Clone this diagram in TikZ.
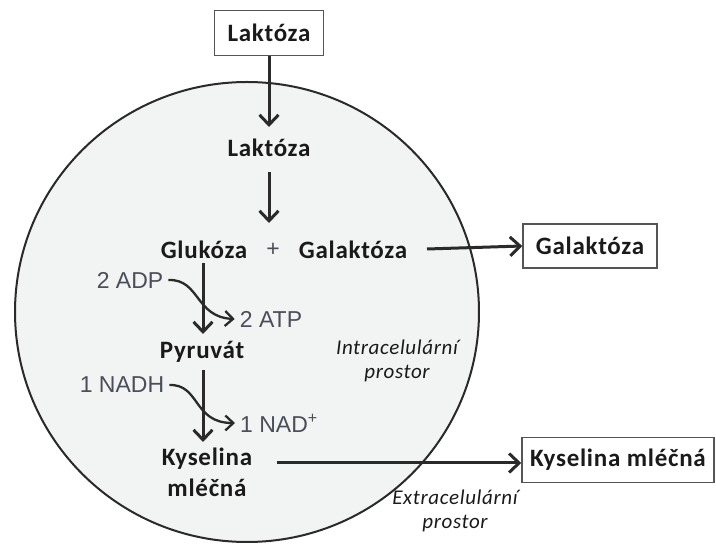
\documentclass[tikz,border=0pt]{standalone}
\usepackage{fontspec}
\setmainfont{Carlito}[LetterSpace=3]
\newfontfamily\arialf{Liberation Sans}
\usetikzlibrary{arrows.meta}
\definecolor{cellfill}{HTML}{F2F3F3}
\definecolor{txtdark}{HTML}{1A1A1A}
\definecolor{arrowc}{HTML}{2A2A2A}
\definecolor{graylab}{HTML}{4A4E5A}
\definecolor{boxc}{HTML}{555555}
\tikzset{
  lbl/.style={font=\fontsize{25}{28}\selectfont\bfseries, text=txtdark, inner sep=0pt},
  boxed/.style={lbl, draw=boxc, line width=1.5pt, fill=white, inner xsep=8pt, inner ysep=8pt},
  small/.style={font=\arialf\fontsize{23}{25}\selectfont, text=graylab, inner xsep=5pt, inner ysep=1pt},
  ital/.style={font=\fontsize{21}{24}\selectfont\itshape, text=txtdark, align=center, inner sep=0pt},
  flow/.style={draw=arrowc, line width=3pt, -{Straight Barb[length=10pt,width=19pt,line width=3pt]}},
  side/.style={draw=arrowc, line width=2.3pt, -{Straight Barb[length=8pt,width=15pt,line width=2.3pt]}},
}
\begin{document}
\begin{tikzpicture}[x=1pt,y=-1pt]
\useasboundingbox (0,0) rectangle (716,545);
\draw[fill=cellfill, draw=arrowc, line width=2pt] (247,312) ellipse [x radius=232, y radius=230];
\node[boxed, minimum width=109pt, minimum height=45pt] (lakout) at (269,33) {Laktóza};
\node[lbl] (lakin) at (269,148) {Laktóza};
\node[lbl] (glu) at (204,250) {Glukóza};
\node[font=\arialf\fontsize{23}{25}\selectfont, text=graylab, inner sep=0pt] (plus) at (273,250) {+};
\node[lbl] (galin) at (353,250) {Galaktóza};
\node[boxed, minimum width=134pt, minimum height=44pt] (galout) at (590,246) {Galaktóza};
\node[small] (adp) at (130,280) {2 ADP};
\node[small] (atp) at (271,319) {2 ATP};
\node[small] (nadh) at (122,385) {1 NADH};
\node[small] (nad) at (279,423) {1 NAD\textsuperscript{+}};
\node[lbl] (pyr) at (202,352) {Pyruvát};
\node[lbl, align=center] (kys) at (207,472) {Kyselina\\[3pt]mléčná};
\node[boxed, minimum width=192pt, minimum height=45pt] (kysout) at (618,460) {Kyselina mléčná};
\node[ital] (intra) at (397,361) {Intracelulární\\prostor};
\node[ital] (extra) at (455,511) {Extracelulární\\prostor};
\coordinate (g1) at (203,263);
\coordinate (g2) at (203,334);
\coordinate (p1) at (203,370);
\coordinate (p2) at (203,442);
\coordinate (k1) at (277,463);
\coordinate (gl1) at (427,249);
\coordinate (l1) at (269,172);
\draw[flow] (lakout.south) -- (269,127);
\draw[flow] (l1) -- (269,223);
\draw[flow] (g1) -- (g2);
\draw[flow] (p1) -- (p2);
\draw[flow] (gl1) -- (galout.west);
\draw[flow] (k1) -- (kysout.west |- k1);
\draw[side] (adp.east) .. controls (200,279) and (195,317) .. (atp.west);
\draw[side] (nadh.east) .. controls (200,384) and (193,423) .. (nad.west);
\end{tikzpicture}
\end{document}
